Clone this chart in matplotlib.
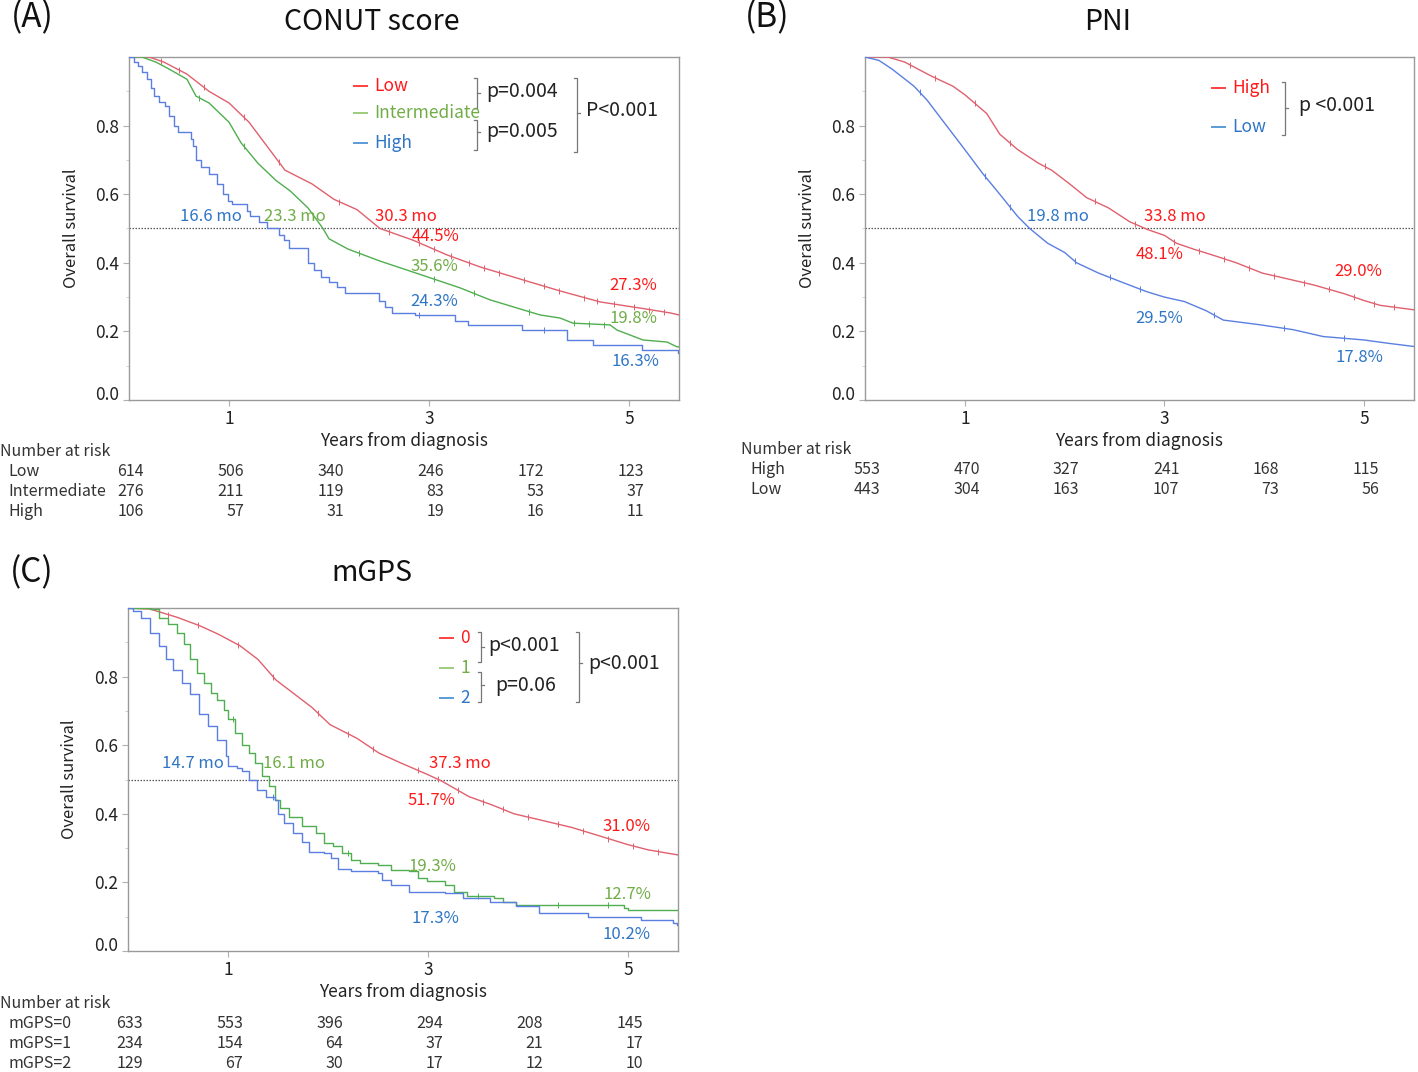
import numpy as np
import matplotlib.pyplot as plt
from matplotlib.transforms import Affine2D

plt.rcParams['font.family'] = ['Noto Sans CJK JP', 'DejaVu Sans']

# ---- data (years, survival) ----
conut_low_t = [0, 0.2, 0.35, 0.58, 0.8, 1.0, 1.2, 1.38, 1.56, 1.83, 2.05, 2.28, 2.51, 2.84, 3.18, 3.51, 4.01, 4.31, 4.71, 5.11, 5.41, 5.5]
conut_low_s = [1.0, 1.0, 0.985, 0.95, 0.90, 0.866, 0.81, 0.74, 0.67, 0.63, 0.585, 0.555, 0.50, 0.466, 0.423, 0.388, 0.344, 0.318, 0.286, 0.268, 0.254, 0.248]
conut_int_t = [0, 0.13, 0.27, 0.40, 0.58, 0.67, 0.80, 1.0, 1.12, 1.29, 1.47, 1.61, 1.79, 1.94, 2.0, 2.19, 2.51, 2.84, 3.31, 3.61, 4.11, 4.31, 4.44, 4.81, 4.88, 5.14, 5.38, 5.48, 5.5]
conut_int_s = [1.0, 1.0, 0.985, 0.965, 0.935, 0.886, 0.866, 0.81, 0.75, 0.69, 0.64, 0.61, 0.56, 0.50, 0.47, 0.44, 0.405, 0.373, 0.327, 0.292, 0.248, 0.239, 0.224, 0.219, 0.204, 0.175, 0.169, 0.155, 0.155]
conut_high_t = [0, 0.05, 0.09, 0.13, 0.18, 0.22, 0.25, 0.30, 0.36, 0.40, 0.45, 0.49, 0.62, 0.64, 0.67, 0.72, 0.80, 0.88, 0.94, 0.99, 1.03, 1.18, 1.21, 1.30, 1.38, 1.50, 1.55, 1.60, 1.79, 1.85, 1.92, 2.0, 2.08, 2.16, 2.50, 2.56, 2.63, 2.86, 3.26, 3.39, 3.93, 4.38, 4.64, 5.13, 5.49, 5.5]
conut_high_s = [1.0, 0.985, 0.975, 0.955, 0.935, 0.91, 0.886, 0.87, 0.856, 0.827, 0.80, 0.78, 0.76, 0.74, 0.70, 0.68, 0.66, 0.63, 0.60, 0.58, 0.57, 0.55, 0.535, 0.52, 0.50, 0.48, 0.466, 0.443, 0.40, 0.38, 0.36, 0.345, 0.33, 0.313, 0.29, 0.27, 0.253, 0.248, 0.229, 0.219, 0.204, 0.175, 0.16, 0.146, 0.136, 0.136]

pni_high_t = [0, 0.23, 0.40, 0.66, 0.88, 1.0, 1.22, 1.35, 1.53, 1.74, 1.87, 2.05, 2.22, 2.44, 2.65, 2.83, 3.0, 3.12, 3.29, 3.51, 3.72, 3.98, 4.28, 4.5, 4.8, 5.0, 5.16, 5.5]
pni_high_s = [1.0, 1.0, 0.985, 0.945, 0.915, 0.89, 0.835, 0.775, 0.73, 0.69, 0.67, 0.63, 0.59, 0.56, 0.52, 0.497, 0.48, 0.457, 0.44, 0.42, 0.40, 0.37, 0.35, 0.335, 0.31, 0.29, 0.276, 0.263]
pni_low_t = [0, 0.14, 0.27, 0.49, 0.62, 0.79, 1.0, 1.18, 1.35, 1.53, 1.65, 1.83, 2.0, 2.12, 2.34, 2.56, 2.82, 3.0, 3.2, 3.42, 3.59, 3.94, 4.29, 4.59, 5.0, 5.25, 5.5]
pni_low_s = [1.0, 0.99, 0.965, 0.915, 0.875, 0.81, 0.73, 0.66, 0.60, 0.535, 0.50, 0.457, 0.43, 0.40, 0.37, 0.345, 0.316, 0.30, 0.287, 0.26, 0.233, 0.22, 0.205, 0.185, 0.175, 0.165, 0.156]

mgps0_t = [0, 0.22, 0.49, 0.72, 0.9, 1.12, 1.3, 1.48, 1.66, 1.84, 2.02, 2.29, 2.51, 2.73, 3.0, 3.14, 3.41, 3.63, 3.86, 4.08, 4.44, 4.71, 5.0, 5.2, 5.5]
mgps0_s = [1.0, 0.997, 0.973, 0.948, 0.924, 0.89, 0.85, 0.79, 0.75, 0.71, 0.66, 0.62, 0.577, 0.548, 0.514, 0.495, 0.45, 0.427, 0.40, 0.385, 0.36, 0.336, 0.31, 0.295, 0.28]
mgps1_t = [0, 0.22, 0.31, 0.40, 0.49, 0.56, 0.62, 0.69, 0.76, 0.83, 0.89, 0.96, 1.0, 1.07, 1.14, 1.21, 1.27, 1.34, 1.41, 1.47, 1.52, 1.61, 1.74, 1.88, 1.96, 2.05, 2.14, 2.23, 2.32, 2.50, 2.63, 2.81, 2.90, 2.99, 3.17, 3.26, 3.39, 3.66, 3.75, 3.88, 4.96, 5.0, 5.5]
mgps1_s = [1.0, 0.997, 0.972, 0.952, 0.928, 0.894, 0.85, 0.81, 0.78, 0.753, 0.733, 0.704, 0.675, 0.636, 0.60, 0.577, 0.548, 0.509, 0.48, 0.44, 0.417, 0.392, 0.363, 0.344, 0.314, 0.305, 0.285, 0.266, 0.256, 0.25, 0.237, 0.232, 0.212, 0.203, 0.193, 0.173, 0.159, 0.154, 0.144, 0.134, 0.125, 0.12, 0.12]
mgps2_t = [0, 0.05, 0.13, 0.22, 0.31, 0.38, 0.45, 0.54, 0.62, 0.71, 0.80, 0.89, 0.98, 1.0, 1.09, 1.14, 1.21, 1.29, 1.38, 1.47, 1.50, 1.56, 1.65, 1.74, 1.81, 1.96, 2.03, 2.10, 2.23, 2.50, 2.54, 2.63, 2.81, 3.17, 3.35, 3.62, 3.88, 4.11, 4.60, 5.13, 5.45, 5.49, 5.5]
mgps2_s = [1.0, 0.99, 0.972, 0.928, 0.889, 0.85, 0.82, 0.78, 0.75, 0.69, 0.655, 0.616, 0.568, 0.538, 0.533, 0.524, 0.50, 0.47, 0.45, 0.44, 0.40, 0.373, 0.344, 0.319, 0.29, 0.285, 0.27, 0.24, 0.232, 0.227, 0.207, 0.193, 0.173, 0.168, 0.154, 0.144, 0.13, 0.11, 0.10, 0.09, 0.081, 0.076, 0.076]

# censoring marks (years)
conut_low_cens = [0.32, 0.5, 0.75, 1.15, 1.5, 2.1, 2.6, 2.9, 3.05, 3.22, 3.4, 3.55, 3.7, 3.95, 4.15, 4.3, 4.55, 4.68, 4.85, 5.05, 5.2, 5.35]
conut_int_cens = [0.7, 1.15, 2.3, 3.05, 3.45, 4.0, 4.45, 4.6, 4.75]
conut_high_cens = [2.9, 4.15]
pni_high_cens = [0.45, 0.7, 1.1, 1.45, 1.8, 2.3, 2.7, 3.1, 3.35, 3.6, 3.85, 4.1, 4.4, 4.65, 4.9, 5.1, 5.3]
pni_low_cens = [0.55, 1.2, 1.45, 2.1, 2.45, 2.75, 3.5, 4.2, 4.8]
mgps0_cens = [0.4, 0.7, 1.1, 1.45, 1.9, 2.2, 2.45, 2.9, 3.1, 3.3, 3.55, 3.75, 4.0, 4.3, 4.55, 4.8, 5.05, 5.3]
mgps1_cens = [1.05, 2.2, 3.5, 4.3, 4.8]
mgps2_cens = [1.45]

years = [0, 1, 2, 3, 4, 5]
risk_conut = [('Low', [614, 506, 340, 246, 172, 123]),
              ('Intermediate', [276, 211, 119, 83, 53, 37]),
              ('High', [106, 57, 31, 19, 16, 11])]
risk_pni = [('High', [553, 470, 327, 241, 168, 115]),
            ('Low', [443, 304, 163, 107, 73, 56])]
risk_mgps = [('mGPS=0', [633, 553, 396, 294, 208, 145]),
             ('mGPS=1', [234, 154, 64, 37, 21, 17]),
             ('mGPS=2', [129, 67, 30, 17, 12, 10])]

RED_L, GREEN_L, BLUE_L = '#e0606e', '#4fae4f', '#5a7fe0'
RED_T, GREEN_T, BLUE_T = '#ff1a1a', '#70ad47', '#2e75c6'
RED_D, GREEN_D, BLUE_D = '#ff4040', '#9ccc7c', '#5b9bd5'

W, H = 1418, 1072
fig = plt.figure(figsize=(W / 100, H / 100), dpi=100)
px = Affine2D().scale(1 / W, -1 / H).translate(0, 1) + fig.transFigure


def make_axes(x0, x1, ytop, ybot):
    ax = fig.add_axes([x0 / W, 1 - ybot / H, (x1 - x0) / W, (ybot - ytop) / H])
    ax.set_xlim(0, 5.5)
    ax.set_ylim(0, 1.0)
    ax.set_xticks([1, 3, 5])
    ax.set_yticks([0, 0.2, 0.4, 0.6, 0.8])
    ax.set_yticklabels(['0.0', '0.2', '0.4', '0.6', '0.8'])
    ax.set_yticks([0.1, 0.3, 0.5, 0.7, 0.9], minor=True)
    ax.yaxis.get_major_ticks()[0].label1.set_va('baseline')
    for sp in ax.spines.values():
        sp.set_color('#9a9a9a')
        sp.set_linewidth(1.0)
    ax.tick_params(which='major', length=4, color='#b0b0b0', labelsize=12.5, pad=3, labelcolor='#222222')
    ax.tick_params(which='minor', length=2, color='#c8c8c8')
    ax.axhline(0.5, color='#555555', ls=(0, (1.2, 1.2)), lw=0.9, zorder=1)
    ax.set_xlabel('Years from diagnosis', fontsize=12.5, color='#222222')
    ax.xaxis.label.set_va('center')
    ax.xaxis.set_label_coords(0.5, -41 / (ybot - ytop))
    ax.set_ylabel('Overall survival', fontsize=12, color='#222222')
    ax.yaxis.label.set_va('center')
    ax.yaxis.set_label_coords(-58 / (x1 - x0), 0.5)
    return ax


def curve(ax, t, s, color, cens, steps=False):
    if steps:
        ax.plot(t, s, color=color, lw=1.0, drawstyle='steps-post', zorder=3)
        cy = [s[np.searchsorted(t, c, side='right') - 1] for c in cens]
    else:
        ax.plot(t, s, color=color, lw=1.0, zorder=3)
        cy = np.interp(cens, t, s)
    ax.plot(cens, cy, ls='none', marker='|', ms=5, mew=0.7, color=color, zorder=3)


def risk_table(ax, rows, head_dy, label_x, head_x, ax_h):
    tr = ax.get_xaxis_transform()
    ax.text(head_x, -head_dy / ax_h, 'Number at risk', transform=tr, fontsize=11.5,
            va='center', ha='left', color='#333333', clip_on=False)
    for i, (name, vals) in enumerate(rows):
        yy = -(head_dy + 20 * (i + 1)) / ax_h
        ax.text(label_x, yy, name, transform=tr, fontsize=11.5, va='center', ha='left',
                color='#333333', clip_on=False)
        for yr, v in zip(years, vals):
            ax.text(yr + 0.15, yy, str(v), transform=tr, fontsize=11.5, va='center',
                    ha='right', color='#333333', clip_on=False)


def bracket(ax, x, y0, y1, ym):
    ax.plot([x - 3, x, x, x - 3], [y0, y0, y1, y1], transform=px, color='#777777', lw=0.9, clip_on=False)
    ax.plot([x, x + 3], [ym, ym], transform=px, color='#777777', lw=0.9, clip_on=False)


def legend_item(ax, x, y, label, dcol, tcol):
    ax.plot([x, x + 13], [y, y], transform=px, color=dcol, lw=1.4, clip_on=False)
    ax.text(x + 20, y, label, transform=px, color=tcol, fontsize=12.5, va='center', ha='left')


def ptext(ax, x, y, s, **kw):
    ax.text(x, y, s, transform=px, fontsize=14, va='center', ha='left', color='#222222', **kw)


# ---------------- (A) CONUT ----------------
axA = make_axes(129, 679, 57, 400)
curve(axA, conut_low_t, conut_low_s, RED_L, conut_low_cens)
curve(axA, conut_int_t, conut_int_s, GREEN_L, conut_int_cens)
curve(axA, conut_high_t, conut_high_s, BLUE_L, conut_high_cens, steps=True)
for txt, x, y, c in [('16.6 mo', 0.82, 0.536, BLUE_T), ('23.3 mo', 1.66, 0.536, GREEN_T),
                     ('30.3 mo', 2.77, 0.536, RED_T), ('44.5%', 3.06, 0.478, RED_T),
                     ('35.6%', 3.05, 0.388, GREEN_T), ('24.3%', 3.05, 0.286, BLUE_T),
                     ('27.3%', 5.04, 0.335, RED_T), ('19.8%', 5.04, 0.239, GREEN_T),
                     ('16.3%', 5.06, 0.111, BLUE_T)]:
    axA.text(x, y, txt, color=c, fontsize=12, ha='center', va='center', zorder=4)
legend_item(axA, 354, 86, 'Low', RED_D, RED_T)
legend_item(axA, 354, 113, 'Intermediate', GREEN_D, GREEN_T)
legend_item(axA, 354, 143, 'High', BLUE_D, BLUE_T)
bracket(axA, 477, 78, 108, 93)
bracket(axA, 477, 120, 150, 132)
bracket(axA, 577, 78, 152, 113)
ptext(axA, 486, 92, 'p=0.004')
ptext(axA, 486, 131, 'p=0.005')
ptext(axA, 586, 111, 'P<0.001')
risk_table(axA, risk_conut, 52, -1.21, -1.29, 343)

# ---------------- (B) PNI ----------------
axB = make_axes(865, 1414, 57, 400)
curve(axB, pni_high_t, pni_high_s, RED_L, pni_high_cens)
curve(axB, pni_low_t, pni_low_s, BLUE_L, pni_low_cens)
for txt, x, y, c in [('19.8 mo', 1.93, 0.534, BLUE_T), ('33.8 mo', 3.10, 0.534, RED_T),
                     ('48.1%', 2.95, 0.423, RED_T), ('29.5%', 2.95, 0.239, BLUE_T),
                     ('29.0%', 4.94, 0.376, RED_T), ('17.8%', 4.95, 0.125, BLUE_T)]:
    axB.text(x, y, txt, color=c, fontsize=12, ha='center', va='center', zorder=4)
legend_item(axB, 1212, 88, 'High', RED_D, RED_T)
legend_item(axB, 1212, 127, 'Low', BLUE_D, BLUE_T)
bracket(axB, 1285, 82, 135, 108)
ptext(axB, 1299, 106, 'p <0.001')
risk_table(axB, risk_pni, 50, -1.15, -1.24, 343)

# ---------------- (C) mGPS ----------------
axC = make_axes(128, 678, 608, 951)
curve(axC, mgps0_t, mgps0_s, RED_L, mgps0_cens)
curve(axC, mgps1_t, mgps1_s, GREEN_L, mgps1_cens, steps=True)
curve(axC, mgps2_t, mgps2_s, BLUE_L, mgps2_cens, steps=True)
for txt, x, y, c in [('14.7 mo', 0.65, 0.548, BLUE_T), ('16.1 mo', 1.66, 0.548, GREEN_T),
                     ('37.3 mo', 3.32, 0.548, RED_T), ('51.7%', 3.03, 0.440, RED_T),
                     ('31.0%', 4.98, 0.362, RED_T), ('19.3%', 3.04, 0.245, GREEN_T),
                     ('12.7%', 4.99, 0.166, GREEN_T), ('17.3%', 3.07, 0.096, BLUE_T),
                     ('10.2%', 4.99, 0.047, BLUE_T)]:
    axC.text(x, y, txt, color=c, fontsize=12, ha='center', va='center', zorder=4)
legend_item(axC, 440, 638, '0', RED_D, RED_T)
legend_item(axC, 440, 668, '1', GREEN_D, GREEN_T)
legend_item(axC, 440, 698, '2', BLUE_D, BLUE_T)
bracket(axC, 481, 632, 662, 647)
bracket(axC, 481, 672, 702, 685)
bracket(axC, 579, 632, 702, 663)
ptext(axC, 488, 646, 'p<0.001')
ptext(axC, 495, 685, 'p=0.06')
ptext(axC, 588, 663, 'p<0.001')
risk_table(axC, risk_mgps, 52, -1.19, -1.28, 343)

# panel titles
for txt, x, y, fs in [('(A)', 32, 18, 24), ('CONUT score', 372, 22, 20.5),
                      ('(B)', 767, 18, 24), ('PNI', 1108, 22, 20.5),
                      ('(C)', 32, 573, 24), ('mGPS', 372, 573, 20.5)]:
    fig.text(x, y, txt, transform=px, fontsize=fs, ha='center', va='center', color='#111111')

fig.savefig('out.png', dpi=100)
